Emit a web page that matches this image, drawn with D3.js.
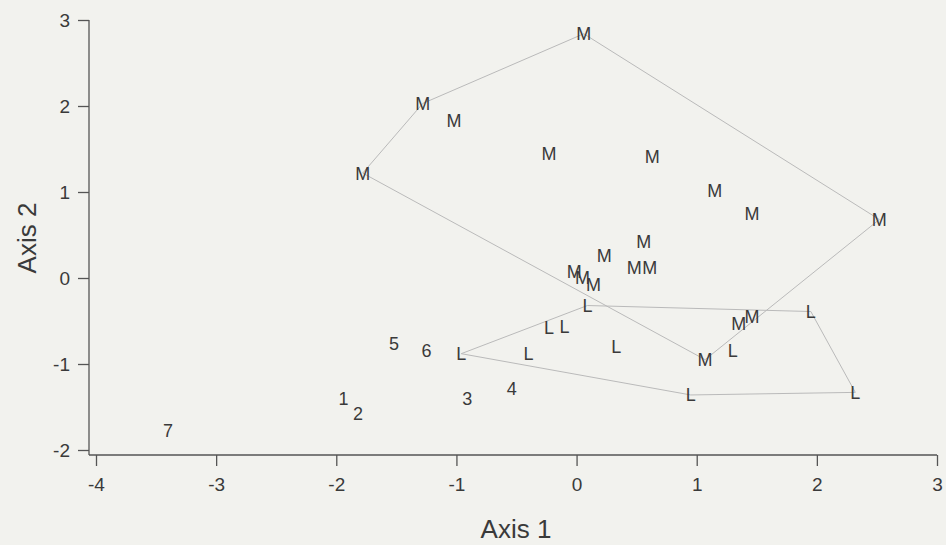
<!DOCTYPE html>
<html>
<head>
<meta charset="utf-8">
<script src="https://cdn.jsdelivr.net/npm/d3@7"></script>
<style>
  body { margin: 0; background: #f2f2ee; }
  svg { display: block; }
  text { font-family: "Liberation Sans", Arial, sans-serif; fill: #3a3a3a; }
</style>
</head>
<body>
<div id="chart"></div>
<script>
// Group M scores (Axis 1, Axis 2)
var mX = [0.06, -1.28, -1.02, -1.78, -0.23, 0.63, 1.15, 1.46, 2.52, 0.56,
          0.23, 0.48, 0.61, -0.02, 0.05, 0.14, 1.35, 1.46, 1.07];
var mY = [2.84, 2.03, 1.83, 1.22, 1.45, 1.41, 1.02, 0.75, 0.68, 0.42,
          0.26, 0.12, 0.12, 0.07, 0.00, -0.08, -0.53, -0.45, -0.95];

// Group L scores
var lX = [0.09, -0.23, -0.10, 0.33, -0.96, -0.40, 1.95, 1.30, 0.95, 2.32];
var lY = [-0.32, -0.58, -0.56, -0.80, -0.88, -0.88, -0.39, -0.84, -1.36, -1.33];

// numbered samples
var nLabels = ["1", "2", "3", "4", "5", "6", "7"];
var nX = [-1.94, -1.82, -0.91, -0.54, -1.52, -1.25, -3.40];
var nY = [-1.40, -1.57, -1.40, -1.28, -0.76, -0.84, -1.77];

var xTicks = [-4, -3, -2, -1, 0, 1, 2, 3];
var yTicks = [-2, -1, 0, 1, 2, 3];

var width = 946, height = 545;

var svg = d3.select("#chart").append("svg")
  .attr("width", width)
  .attr("height", height);

var x = d3.scaleLinear().domain([-4, 3]).range([96, 937]);
var y = d3.scaleLinear().domain([-2, 3]).range([450, 20]);

var axisLeftX = 89, axisBottomY = 455;

// hulls around each group
function hull(xs, ys) {
  var pts = xs.map(function(v, i) { return [x(v), y(ys[i])]; });
  return d3.polygonHull(pts);
}
[hull(mX, mY), hull(lX, lY)].forEach(function(h) {
  svg.append("path")
    .attr("d", "M" + h.join("L") + "Z")
    .attr("fill", "none")
    .attr("stroke", "#bababa")
    .attr("stroke-width", 1);
});

// axes
svg.append("line")
  .attr("x1", axisLeftX).attr("x2", x(3))
  .attr("y1", axisBottomY).attr("y2", axisBottomY)
  .attr("stroke", "#555").attr("stroke-width", 1.3);
svg.append("line")
  .attr("x1", axisLeftX).attr("x2", axisLeftX)
  .attr("y1", y(3)).attr("y2", axisBottomY)
  .attr("stroke", "#555").attr("stroke-width", 1.3);

var xAxis = svg.append("g")
  .attr("transform", "translate(0," + axisBottomY + ")")
  .call(d3.axisBottom(x).tickValues(xTicks).tickSize(11).tickPadding(12)
    .tickFormat(d3.format("d")));
var yAxis = svg.append("g")
  .attr("transform", "translate(" + axisLeftX + ",0)")
  .call(d3.axisLeft(y).tickValues(yTicks).tickSize(11).tickPadding(8)
    .tickFormat(d3.format("d")));

[xAxis, yAxis].forEach(function(g) {
  g.select(".domain").remove();
  g.selectAll(".tick line").attr("stroke", "#555").attr("stroke-width", 1.3);
  g.selectAll(".tick text")
    .attr("fill", "#3a3a3a")
    .style("font-family", "'Liberation Sans', Arial, sans-serif")
    .style("font-size", "19px");
});
// plain hyphen for negatives, as in the figure
svg.selectAll(".tick text").text(function(d) { return d < 0 ? "-" + Math.abs(d) : d; });

// axis titles
svg.append("text")
  .attr("x", 516).attr("y", 538)
  .attr("text-anchor", "middle")
  .style("font-size", "26px")
  .text("Axis 1");
svg.append("text")
  .attr("transform", "translate(36,238) rotate(-90)")
  .attr("text-anchor", "middle")
  .style("font-size", "26px")
  .text("Axis 2");

// point labels
function labels(xs, ys, txt) {
  svg.append("g").selectAll("text")
    .data(xs)
    .enter().append("text")
    .attr("x", function(d) { return x(d); })
    .attr("y", function(d, i) { return y(ys[i]); })
    .attr("dy", "0.36em")
    .attr("text-anchor", "middle")
    .style("font-size", "18px")
    .text(function(d, i) { return typeof txt === "string" ? txt : txt[i]; });
}
labels(mX, mY, "M");
labels(lX, lY, "L");
labels(nX, nY, nLabels);
</script>
</body>
</html>
